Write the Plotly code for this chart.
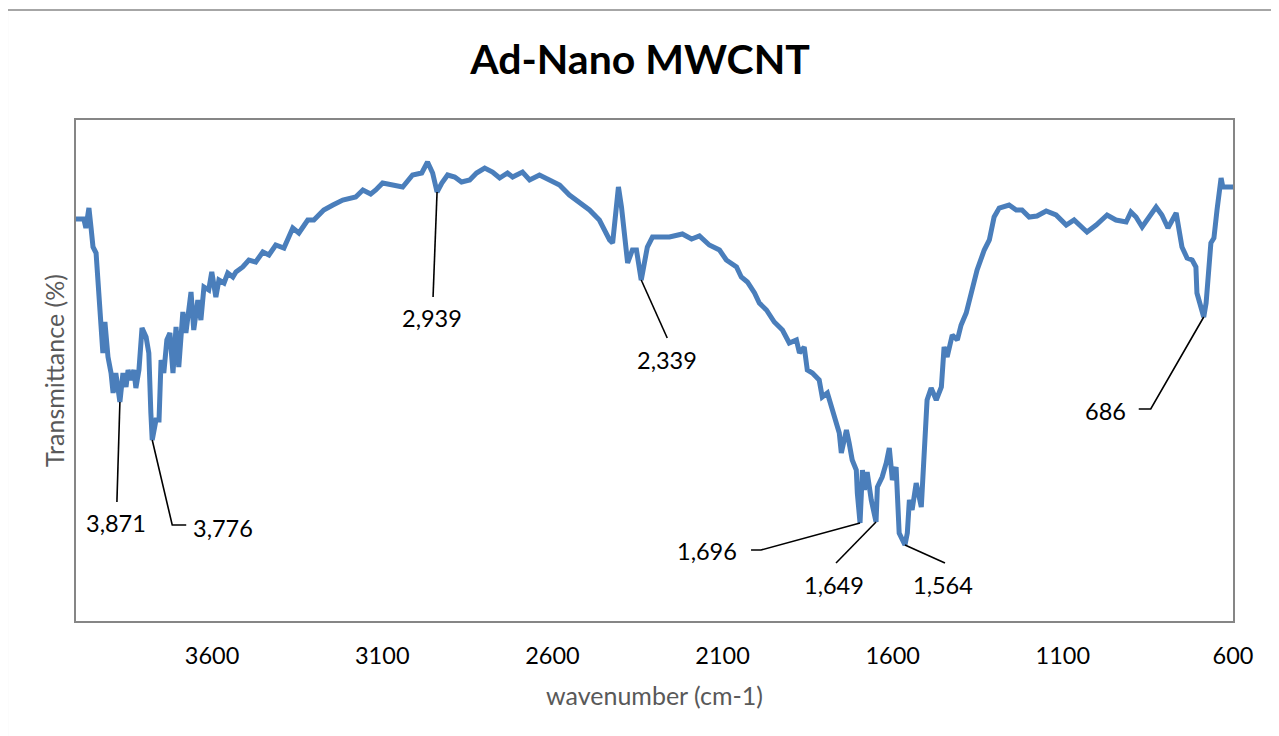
"""FTIR spectrum of Ad-Nano MWCNT with labelled absorption peaks."""
import plotly.graph_objects as go

BLUE, INK, GREY, FRAME = "#4A7EBB", "#000000", "#595959", "#868686"
FONT = "Lato, 'Open Sans', sans-serif"
PAGE_OFFSET = 8  # browser body margin around the plot div

WAVENUMBER = [
    4000, 3977, 3971, 3962, 3956, 3950, 3941, 3932, 3924, 3921, 3915, 3906, 3897, 3891, 3883,
    3871, 3862, 3853, 3847, 3839, 3830, 3824, 3815, 3806, 3794, 3786, 3780, 3776, 3765, 3756,
    3750, 3742, 3733, 3724, 3715, 3706, 3698, 3686, 3677, 3662, 3654, 3642, 3633, 3624, 3610,
    3601, 3589, 3580, 3565, 3554, 3539, 3530, 3510, 3492, 3472, 3451, 3433, 3413, 3389, 3363,
    3345, 3319, 3301, 3272, 3245, 3216, 3178, 3157, 3134, 3119, 3099, 3069, 3040, 3011, 2984,
    2967, 2952, 2939, 2925, 2908, 2887, 2867, 2843, 2823, 2799, 2776, 2755, 2732, 2717, 2688,
    2667, 2638, 2608, 2579, 2550, 2520, 2491, 2462, 2432, 2423, 2412, 2406, 2397, 2388, 2379,
    2365, 2353, 2339, 2329, 2321, 2306, 2285, 2256, 2218, 2191, 2168, 2139, 2109, 2089, 2059,
    2045, 2027, 2006, 1992, 1971, 1948, 1924, 1904, 1883, 1874, 1860, 1851, 1836, 1816, 1807,
    1792, 1780, 1766, 1757, 1751, 1736, 1728, 1719, 1707, 1704, 1696, 1689, 1683, 1675, 1663,
    1649, 1645, 1631, 1619, 1610, 1601, 1590, 1581, 1564, 1557, 1551, 1543, 1531, 1516, 1507,
    1499, 1487, 1472, 1457, 1449, 1440, 1425, 1410, 1399, 1384, 1369, 1352, 1331, 1316, 1302,
    1287, 1258, 1237, 1220, 1199, 1176, 1149, 1120, 1090, 1067, 1029, 1002, 970, 944, 914,
    900, 885, 867, 841, 826, 809, 791, 767, 759, 750, 735, 720, 709, 706, 686,
    679, 665, 656, 647, 635, 630, 621, 600,
]
TRANSMITTANCE = [
    80.4, 80.4, 78.6, 82.6, 78.8, 74.8, 73.6, 65.6, 58.8, 53.6, 59.8, 52.8, 49.6, 45.6, 49.6,
    43.8, 49.6, 46.8, 50.2, 48.2, 50.2, 46.6, 50.2, 58.6, 56.8, 53.6, 41.6, 36.2, 40.2, 40.2,
    52.2, 49.6, 56.2, 57.6, 49.6, 58.8, 50.8, 61.8, 57.6, 65.8, 58.2, 64.2, 60.2, 66.8, 66.2,
    69.8, 64.8, 68.2, 67.6, 69.6, 68.8, 69.8, 70.8, 72.2, 71.8, 73.8, 73.2, 75.2, 74.6, 78.6,
    77.6, 80.2, 80.2, 82.2, 83.2, 84.2, 84.8, 86.2, 85.4, 86.2, 87.6, 87.2, 86.8, 89.2, 89.6,
    91.8, 89.6, 85.8, 87.6, 89.2, 88.8, 87.8, 88.2, 89.6, 90.6, 89.8, 88.6, 89.6, 88.8, 89.8,
    88.2, 89.2, 88.2, 87.2, 85.2, 83.8, 82.2, 80.2, 76.2, 75.6, 81.6, 86.8, 82.8, 76.2, 71.6,
    74.2, 74.2, 68.2, 71.6, 74.8, 76.8, 76.8, 76.8, 77.4, 76.4, 77.0, 75.2, 74.2, 72.2, 70.8,
    68.8, 67.8, 65.6, 63.6, 62.2, 59.8, 58.2, 55.6, 56.2, 53.6, 54.8, 50.2, 49.6, 48.2, 44.8,
    45.6, 42.8, 40.2, 37.6, 33.6, 38.2, 35.6, 32.2, 30.2, 25.6, 19.6, 30.2, 26.2, 29.8, 24.2,
    19.8, 26.8, 28.8, 31.6, 34.6, 28.2, 30.8, 17.6, 15.2, 17.6, 24.2, 22.2, 27.6, 22.8, 32.8,
    44.2, 46.6, 44.2, 46.8, 54.8, 52.8, 57.2, 56.2, 59.2, 61.6, 65.2, 70.2, 74.2, 76.2, 80.8,
    82.6, 83.2, 82.2, 82.2, 80.8, 81.0, 82.0, 81.2, 79.2, 80.2, 77.8, 79.2, 81.2, 80.2, 79.8,
    81.8, 80.8, 78.8, 81.2, 82.8, 81.2, 78.6, 81.6, 78.8, 74.8, 72.6, 72.2, 70.8, 65.6, 60.8,
    63.6, 75.6, 76.6, 82.2, 88.6, 86.8, 86.8, 86.8,
]
X_TICKS = [3600, 3100, 2600, 2100, 1600, 1100, 600]
PEAKS = [3871, 3776, 2939, 2339, 1696, 1649, 1564, 686]

# leader geometry in screen pixels from the peak (dx, dy down) and label anchor
LEADERS = {
    3871: ([(-3, 100)], (-4, 121, "center")),
    3776: ([(20, 85), (34, 85)], (39, 88, "left")),
    2939: ([(-4, 105)], (-5, 126, "center")),
    2339: ([(26, 58)], (26, 80, "center")),
    1696: ([(-99, 27), (-109, 27)], (-121, 28, "right")),
    1649: ([(-40, 41)], (-42, 63, "center")),
    1564: ([(40, 18)], (38, 40, "center")),
    686: ([(-53, 92), (-65, 92)], (-76, 94, "right")),
}

fig = go.Figure(go.Scatter(x=WAVENUMBER, y=TRANSMITTANCE, mode="lines",
                           line=dict(color=BLUE, width=5), showlegend=False,
                           hovertemplate="%{x} cm-1<br>%{y:.1f} %<extra></extra>"))

lookup = dict(zip(WAVENUMBER, TRANSMITTANCE))
for wn in PEAKS:
    pts, (tx, ty, anchor) = LEADERS[wn]
    path = "M 0,0 " + " ".join(f"L {dx},{-dy}" for dx, dy in pts)
    fig.add_shape(type="path", xref="x", yref="y", xsizemode="pixel", ysizemode="pixel",
                  xanchor=wn, yanchor=lookup[wn], path=path,
                  line=dict(color=INK, width=1.6))
    fig.add_annotation(x=wn, y=lookup[wn], text=f"{wn:,}", showarrow=False,
                       xshift=tx, yshift=-ty, xanchor=anchor, yanchor="middle",
                       font=dict(size=23.5, color=INK))

# outer chart frame (cropped on the right and bottom in the original)
fig.add_shape(type="rect", xref="paper", yref="paper", x0=-0.0596, x1=1.06, y0=-0.3, y1=1.2196,
              line=dict(color="#A6A6A6", width=2), layer="below")

W, H = 1279 - PAGE_OFFSET, 736 - PAGE_OFFSET
fig.update_layout(
    width=W, height=H, font=dict(family=FONT, color=INK),
    margin=dict(l=76 - PAGE_OFFSET, r=46, t=120 - PAGE_OFFSET, b=115),
    paper_bgcolor="white", plot_bgcolor="white",
    title=dict(text="<b>Ad-Nano MWCNT</b>", x=(640 - PAGE_OFFSET) / W, xref="container",
               xanchor="center", y=1 - (60 - PAGE_OFFSET) / H, yref="container",
               yanchor="middle", font=dict(size=41, color=INK)),
)
fig.update_xaxes(range=[4000, 600], tickvals=X_TICKS, ticks="", showgrid=False, zeroline=False,
                 showline=True, mirror=True, linecolor=FRAME, linewidth=2,
                 tickfont=dict(size=23.5, color=INK), ticklabelstandoff=13,
                 title=dict(text="wavenumber (cm-1)", font=dict(size=25, color=GREY), standoff=19))
fig.update_yaxes(range=[0, 100.2], showticklabels=False, ticks="", showgrid=False, zeroline=False,
                 showline=True, mirror=True, linecolor=FRAME, linewidth=2,
                 title=dict(text="Transmittance (%)", font=dict(size=25, color=GREY), standoff=2))

fig.write_html("out.html", config=dict(displayModeBar=False))
